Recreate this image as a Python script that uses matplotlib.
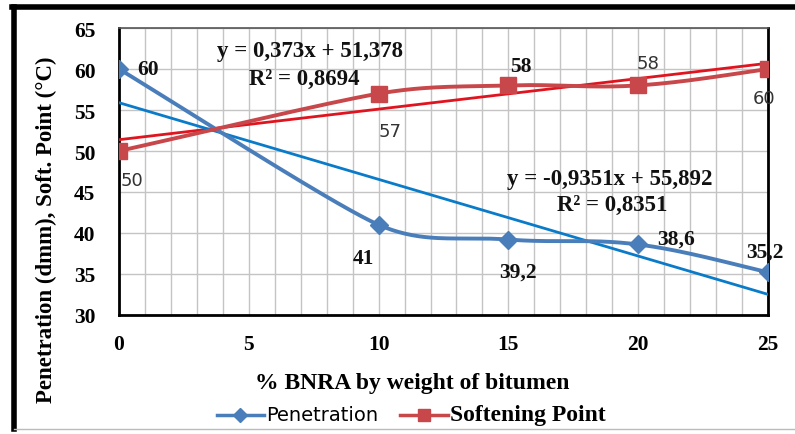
import numpy as np
import matplotlib.pyplot as plt
from matplotlib.lines import Line2D

# data
bnra = [0, 10, 15, 20, 25]
penetration = [60, 41, 39.2, 38.6, 35.2]
softening = [50, 57, 58, 58, 60]
pen_labels = ["60", "41", "39,2", "38,6", "35,2"]
soft_labels = ["50", "57", "58", "58", "60"]

# trend lines as printed on the chart
soft_fit = (0.373, 51.378, "y = 0,373x + 51,378", "R² = 0,8694")
pen_fit = (-0.9351, 55.892, "y = -0,9351x + 55,892", "R² = 0,8351")

SERIF = "Liberation Serif"
SANS = "DejaVu Sans"


def smooth(ax, xs, ys, n=40, tension=0.38):
    # excel-like smoothed line, bezier built in pixel space
    pts = ax.transData.transform(np.column_stack([xs, ys]))
    m = len(pts)
    seg = np.linalg.norm(np.diff(pts, axis=0), axis=1)
    tang = []
    for i in range(m):
        if i == 0 or i == m - 1:
            tang.append(None)
            continue
        d = pts[i + 1] - pts[i - 1]
        tang.append(d / np.linalg.norm(d) * min(seg[i - 1], seg[i]) * tension)
    t = np.linspace(0, 1, n)[:, None]
    out = []
    for i in range(m - 1):
        p0, p3 = pts[i], pts[i + 1]
        c1 = p0 + (tang[i] if tang[i] is not None else (p3 - p0) * tension * 0.5)
        c2 = p3 - (tang[i + 1] if tang[i + 1] is not None else (p3 - p0) * tension * 0.5)
        out.append((1 - t) ** 3 * p0 + 3 * (1 - t) ** 2 * t * c1 + 3 * (1 - t) * t ** 2 * c2 + t ** 3 * p3)
    out = ax.transData.inverted().transform(np.vstack(out))
    return out[:, 0], out[:, 1]


fig = plt.figure(figsize=(7.95, 4.35), dpi=100)
ax = fig.add_axes([0.1497, 0.2736, 0.8163, 0.6597])
ax.set_xlim(0, 25)
ax.set_ylim(30, 65)

blue = "#4A7EBB"
red = "#C8474A"
blue_trend = "#0A7BC9"
red_trend = "#E0141E"

# trend lines
xt = np.array([0, 25])
ax.plot(xt, soft_fit[0] * xt + soft_fit[1], color=red_trend, lw=2, zorder=3)
ax.plot(xt, pen_fit[0] * xt + pen_fit[1], color=blue_trend, lw=2, zorder=3)

# smoothed series
sx, sy = smooth(ax, bnra, penetration)
ax.plot(sx, sy, color=blue, lw=2.8, zorder=4)
ax.plot(bnra, penetration, ls="none", marker="D", ms=9, color=blue, zorder=5)
sx, sy = smooth(ax, bnra, softening)
ax.plot(sx, sy, color=red, lw=2.8, zorder=4)
ax.plot(bnra, softening, ls="none", marker="s", ms=11, color=red, zorder=5)

# data labels (offsets in points)
pen_off = [(13, 0, "left"), (-3, -24, "right"), (7, -23, "center"), (14, 4, "left"), (-2, 15, "center")]
for x, y, lab, (dx, dy, ha) in zip(bnra, penetration, pen_labels, pen_off):
    ax.annotate(lab, (x, y), xytext=(dx, dy), textcoords="offset points", ha=ha, va="center",
                fontsize=15.5, fontweight="bold", family=SERIF, color="#111111", zorder=6)
soft_off = [(9, -21, SANS, "normal"), (8, -27, SANS, "normal"), (9, 14, SERIF, "bold"),
            (7, 16, SANS, "normal"), (-3, -21, SANS, "normal")]
for x, y, lab, (dx, dy, fam, fw) in zip(bnra, softening, soft_labels, soft_off):
    ax.annotate(lab, (x, y), xytext=(dx, dy), textcoords="offset points", ha="center", va="center",
                fontsize=13 if fam == SANS else 15.5, fontweight=fw, family=fam,
                color="#333333" if fam == SANS else "#111111", zorder=6)

# equations
eq = dict(ha="center", va="center", fontsize=16.5, fontweight="bold", family=SERIF, color="#111111")
ax.text(7.35, 62.2, soft_fit[2], **eq)
ax.text(7.15, 58.8, soft_fit[3], **eq)
ax.text(18.9, 46.6, pen_fit[2], **eq)
ax.text(19.0, 43.5, pen_fit[3], **eq)

# axes styling
ax.set_xticks(range(0, 26, 5))
ax.set_xticks(range(0, 26), minor=True)
ax.set_yticks(range(30, 66, 5))
ax.grid(True, which="both", axis="x", color="#C4C4C4", lw=1)
ax.grid(True, which="major", axis="y", color="#C4C4C4", lw=1)
ax.set_axisbelow(True)
ax.tick_params(which="both", length=0)
ax.tick_params(axis="x", pad=14)
ax.tick_params(axis="y", pad=17)
for lab in ax.get_xticklabels() + ax.get_yticklabels():
    lab.set_fontfamily(SERIF)
    lab.set_fontweight("bold")
    lab.set_fontsize(15.5)
for side in ["left", "bottom", "right"]:
    ax.spines[side].set_color("black")
    ax.spines[side].set_linewidth(2)
ax.spines["top"].set_color("#555555")
ax.spines["top"].set_linewidth(1.2)

ax.set_xlabel("% BNRA by weight of bitumen", family=SERIF, fontweight="bold", fontsize=17)
ax.xaxis.set_label_coords(0.452, -0.2)
ax.set_ylabel("Penetration (dmm), Soft. Point (°C)", family=SERIF, fontweight="bold", fontsize=16.5)
ax.yaxis.set_label_coords(-0.095, 0.3)

# legend
handles = [Line2D([], [], color=blue, lw=2.5, marker="D", ms=7),
           Line2D([], [], color=red, lw=2.5, marker="s", ms=8)]
leg = fig.legend(handles, ["Penetration", "Softening Point"], loc="center", bbox_to_anchor=(0.517, 0.045),
                 ncol=2, frameon=False, handlelength=3.4, handletextpad=0.15, columnspacing=1.6)
leg.get_texts()[0].set_fontfamily(SANS)
leg.get_texts()[0].set_fontsize(14)
leg.get_texts()[1].set_fontfamily(SERIF)
leg.get_texts()[1].set_fontweight("bold")
leg.get_texts()[1].set_fontsize(17)

# outer frame: thick left/top, thin bottom
fig.add_artist(Line2D([0.017, 0.017], [0.012, 0.982], color="black", lw=4, transform=fig.transFigure))
fig.add_artist(Line2D([0.015, 1.0], [0.982, 0.982], color="black", lw=4, transform=fig.transFigure))
fig.add_artist(Line2D([0.017, 1.0], [0.012, 0.012], color="#BBBBBB", lw=1, transform=fig.transFigure))

fig.savefig("out.png", dpi=100)
